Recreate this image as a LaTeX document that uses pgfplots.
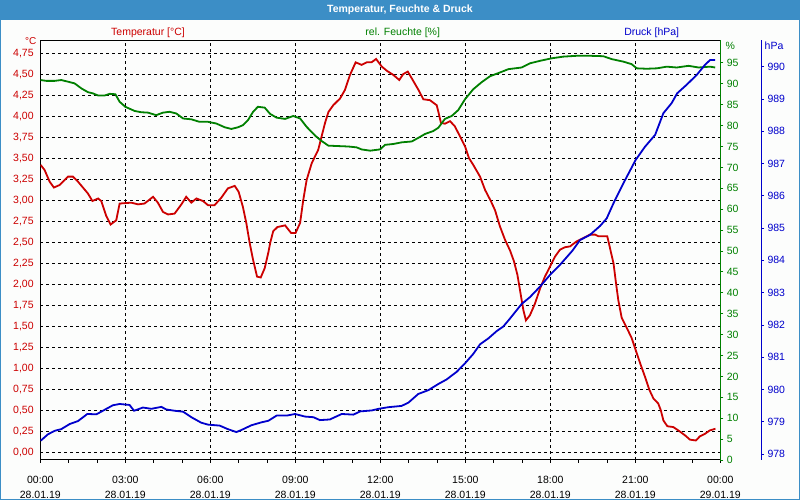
\documentclass[border=0pt]{standalone}
\usepackage{pgfplots}
\pgfplotsset{compat=1.18}
\usepackage{fontspec}
\setmainfont{Liberation Sans}
\definecolor{titleblue}{RGB}{60,142,198}
\definecolor{bgc}{RGB}{252,253,252}
\definecolor{tred}{RGB}{204,0,0}
\definecolor{tgreen}{RGB}{0,128,0}
\definecolor{tblue}{RGB}{0,0,204}
\newcommand\lbl{\fontsize{10.5}{14.5}\selectfont}
\begin{document}
\begin{tikzpicture}[x=1pt,y=1pt]
\useasboundingbox (0,0) rectangle (800,500);
\fill[bgc] (0,0) rectangle (800,500);
\fill[titleblue] (0,480) rectangle (800,500);
\draw[titleblue, line width=1pt] (0.5,0.5) rectangle (799.5,499.5);
\node[white, font=\lbl\bfseries] at (400,490) {Temperatur, Feuchte \& Druck};
\node[tred, font=\lbl] at (148,467.7) {Temperatur [°C]};
\node[tgreen, font=\lbl] at (402.7,467.7) {rel. Feuchte [\%]};
\node[tblue, font=\lbl] at (651.7,467.7) {Druck [hPa]};
\node[tred, font=\fontsize{10}{12}\selectfont, inner sep=0pt, anchor=base east] at (36.5,455) {°C};
\node[tgreen, font=\lbl, inner sep=0pt, anchor=base west] at (725.5,450.5) {\%};
\node[tblue, font=\lbl, inner sep=0pt, anchor=base west] at (764.5,450.5) {hPa};

% main axis: temperature
\begin{axis}[
  at={(40.3pt,40pt)}, anchor=south west,
  scale only axis, width=680pt, height=419.5pt,
  xmin=0, xmax=24, ymin=-0.092, ymax=4.90,
  xtick={0,3,6,9,12,15,18,21,24},
  minor xtick={1,2,4,5,7,8,10,11,13,14,16,17,19,20,22,23},
  xticklabels={{00:00\\28.01.19},{03:00\\28.01.19},{06:00\\28.01.19},{09:00\\28.01.19},{12:00\\28.01.19},{15:00\\28.01.19},{18:00\\28.01.19},{21:00\\28.01.19},{00:00\\29.01.19}},
  xticklabel style={align=center, font=\lbl, text=black, yshift=-10pt},
  ytick={0,0.25,0.5,0.75,1,1.25,1.5,1.75,2,2.25,2.5,2.75,3,3.25,3.5,3.75,4,4.25,4.5,4.75},
  yticklabel={\pgfmathprintnumber[use comma,fixed,fixed zerofill,precision=2,assume math mode=true]{\tick}},
  yticklabel style={font=\lbl, text=tred, inner sep=1pt, xshift=-2.5pt},
  grid=major,
  major grid style={black, line width=0.8pt, dash pattern=on 3pt off 3pt},
  axis line style={black, line width=1pt},
  tick align=outside, xtick pos=bottom, ytick pos=left,
  major tick length=3pt, minor tick length=3pt,
  xtick style={black, line width=0.8pt},
  ytick style={draw=none},
]
\addplot[tred, line width=1.8pt] coordinates {
(0.01,3.42)(0.15,3.36)(0.33,3.22)(0.48,3.15)(0.68,3.18)(0.98,3.28)(1.15,3.28)(1.33,3.22)(1.68,3.08)(1.84,2.99)(2.04,3.02)(2.15,2.99)(2.33,2.81)(2.48,2.71)(2.68,2.76)(2.80,2.96)(3.21,2.97)(3.45,2.95)(3.68,2.96)(3.98,3.04)(4.15,2.97)(4.33,2.86)(4.51,2.83)(4.74,2.84)(4.98,2.95)(5.15,3.04)(5.33,2.97)(5.51,3.02)(5.74,2.99)(5.92,2.94)(6.15,2.94)(6.39,3.03)(6.62,3.14)(6.86,3.17)(7.00,3.10)(7.15,2.92)(7.27,2.73)(7.39,2.49)(7.51,2.29)(7.65,2.09)(7.78,2.08)(7.92,2.19)(8.05,2.38)(8.12,2.50)(8.22,2.63)(8.37,2.68)(8.64,2.70)(8.85,2.61)(9.01,2.61)(9.17,2.73)(9.28,3.00)(9.40,3.24)(9.58,3.44)(9.81,3.60)(9.93,3.76)(10.05,3.92)(10.17,4.05)(10.34,4.13)(10.58,4.21)(10.75,4.31)(10.93,4.49)(11.13,4.64)(11.34,4.61)(11.52,4.64)(11.69,4.64)(11.85,4.68)(12.05,4.59)(12.23,4.54)(12.46,4.49)(12.67,4.43)(12.81,4.50)(12.97,4.53)(13.11,4.45)(13.35,4.31)(13.52,4.20)(13.75,4.19)(13.99,4.13)(14.05,4.05)(14.14,3.92)(14.28,3.91)(14.46,3.94)(14.63,3.88)(14.81,3.76)(14.99,3.64)(15.13,3.50)(15.28,3.42)(15.52,3.28)(15.70,3.12)(15.90,2.99)(16.05,2.88)(16.22,2.69)(16.40,2.53)(16.58,2.40)(16.72,2.27)(16.84,2.11)(16.95,1.89)(17.05,1.69)(17.14,1.57)(17.28,1.63)(17.46,1.77)(17.64,1.95)(17.81,2.09)(17.99,2.21)(18.17,2.33)(18.34,2.41)(18.52,2.44)(18.70,2.45)(18.93,2.51)(19.17,2.55)(19.40,2.59)(19.58,2.59)(19.70,2.57)(20.01,2.57)(20.08,2.47)(20.14,2.38)(20.23,2.25)(20.32,2.01)(20.40,1.81)(20.52,1.60)(20.70,1.48)(20.87,1.36)(21.01,1.22)(21.17,1.06)(21.34,0.90)(21.50,0.74)(21.64,0.64)(21.81,0.58)(21.90,0.50)(21.99,0.38)(22.13,0.31)(22.34,0.30)(22.56,0.25)(22.76,0.20)(22.93,0.15)(23.14,0.14)(23.28,0.19)(23.46,0.22)(23.63,0.26)(23.83,0.28)
};
\end{axis}

% humidity axis
\begin{axis}[
  at={(40.3pt,40pt)}, anchor=south west,
  scale only axis, width=680pt, height=419.5pt,
  xmin=0, xmax=24, ymin=0, ymax=100.36,
  axis x line=none, axis y line*=right,
  axis line style={-, tgreen, line width=1pt},
  ytick={0,5,...,95},
  tick align=outside, major tick length=3pt,
  ytick style={tgreen, line width=0.8pt},
  yticklabel style={font=\lbl, text=tgreen},
  yticklabel={\pgfmathprintnumber[fixed,precision=0,assume math mode=true]{\tick}},
]
\addplot[tgreen, line width=1.8pt] coordinates {
(0.01,90.9)(0.21,90.7)(0.51,90.7)(0.74,90.9)(0.98,90.5)(1.21,90.1)(1.45,88.9)(1.68,88.0)(1.86,87.7)(2.04,87.2)(2.27,87.2)(2.45,87.6)(2.65,87.5)(2.80,85.7)(3.00,84.5)(3.33,83.5)(3.56,83.2)(3.80,83.1)(4.09,82.5)(4.33,83.1)(4.56,83.3)(4.80,82.9)(5.04,81.7)(5.33,81.5)(5.62,80.9)(5.92,80.9)(6.21,80.5)(6.51,79.6)(6.74,79.2)(6.98,79.6)(7.15,80.1)(7.33,81.3)(7.51,83.3)(7.68,84.5)(7.92,84.3)(8.11,82.8)(8.34,81.9)(8.64,81.6)(8.93,82.3)(9.17,81.7)(9.40,79.7)(9.70,77.6)(9.93,76.3)(10.17,75.2)(10.52,75.1)(10.87,75.0)(11.16,74.8)(11.34,74.3)(11.64,74.0)(11.99,74.3)(12.17,75.4)(12.46,75.6)(12.76,76.0)(13.11,76.2)(13.35,77.1)(13.58,78.0)(13.87,78.7)(14.05,79.5)(14.28,81.6)(14.52,82.3)(14.75,83.7)(14.99,86.3)(15.28,88.7)(15.58,90.4)(15.87,91.8)(16.22,92.7)(16.52,93.5)(16.99,93.9)(17.28,94.9)(17.64,95.5)(18.05,96.1)(18.46,96.5)(18.93,96.7)(19.40,96.7)(19.87,96.6)(20.17,95.9)(20.58,95.3)(20.87,94.7)(21.05,93.7)(21.40,93.6)(21.76,93.7)(22.11,94.1)(22.46,93.9)(22.88,94.3)(23.23,93.9)(23.64,94.1)(23.82,93.9)
};
\end{axis}

% pressure data
\begin{axis}[
  at={(40.3pt,40pt)}, anchor=south west,
  scale only axis, width=680pt, height=419.5pt,
  xmin=0, xmax=24, ymin=977.814, ymax=990.814,
  hide axis,
]
\addplot[tblue, line width=1.8pt] coordinates {
(0.01,978.41)(0.27,978.61)(0.51,978.72)(0.74,978.77)(1.04,978.93)(1.33,979.02)(1.66,979.24)(1.98,979.23)(2.21,979.34)(2.56,979.51)(2.80,979.55)(3.15,979.52)(3.31,979.34)(3.62,979.44)(3.92,979.40)(4.27,979.46)(4.45,979.38)(4.74,979.34)(5.04,979.31)(5.33,979.14)(5.68,978.97)(5.92,978.91)(6.33,978.88)(6.62,978.77)(6.92,978.68)(7.09,978.74)(7.45,978.89)(7.80,978.98)(8.05,979.03)(8.34,979.19)(8.70,979.19)(8.99,979.24)(9.34,979.16)(9.64,979.14)(9.87,979.05)(10.22,979.07)(10.64,979.24)(11.05,979.22)(11.29,979.32)(11.70,979.35)(11.94,979.40)(12.28,979.45)(12.75,979.49)(12.99,979.59)(13.34,979.86)(13.70,979.98)(14.05,980.17)(14.34,980.31)(14.70,980.55)(14.99,980.81)(15.28,981.10)(15.52,981.40)(15.81,981.58)(16.11,981.81)(16.34,981.95)(16.58,982.20)(16.99,982.65)(17.28,982.86)(17.64,983.19)(17.99,983.55)(18.34,983.86)(18.78,984.30)(19.05,984.63)(19.40,984.79)(19.76,985.07)(19.99,985.30)(20.23,985.77)(20.58,986.39)(21.01,987.11)(21.34,987.52)(21.70,987.89)(21.99,988.56)(22.28,988.87)(22.48,989.18)(22.81,989.44)(23.17,989.75)(23.46,990.06)(23.64,990.21)(23.82,990.21)
};
\end{axis}

% pressure scale
\begin{axis}[
  at={(40.3pt,40pt)}, anchor=south west,
  scale only axis, width=720.7pt, height=419.5pt,
  xmin=0, xmax=1, ymin=977.814, ymax=990.814,
  axis x line=none, axis y line*=right,
  axis line style={-, tblue, line width=1pt},
  ytick={978,979,980,981,982,983,984,985,986,987,988,989,990},
  tick align=outside, major tick length=3pt,
  ytick style={tblue, line width=0.8pt},
  yticklabel style={font=\lbl, text=tblue},
  yticklabel={\pgfmathprintnumber[fixed,precision=0,1000 sep={},assume math mode=true]{\tick}},
]
\addplot[draw=none] coordinates {(0.5,980)};
\end{axis}
\end{tikzpicture}
\end{document}
